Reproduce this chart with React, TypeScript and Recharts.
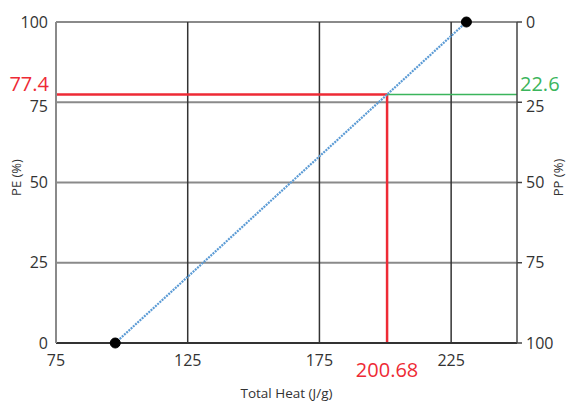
import React from 'react';
import {
  ComposedChart,
  Line,
  XAxis,
  YAxis,
  CartesianGrid,
  ReferenceLine,
  Label,
} from 'recharts';

// Calibration line: total heat (J/g) vs PE content (%); PP is the remainder
const heatValues = [97.5, 230.8];
const peValues = [0, 100];
const ppValues = [100, 0];

// Measured sample
const sampleHeat = 200.68;
const samplePE = 77.4;
const samplePP = 22.6;

const xTicks = [75, 125, 175, 225];
const yTicks = [0, 25, 50, 75, 100];
const xDomain = [75, 250];

const data = heatValues.map((h, i) => ({ heat: h, pe: peValues[i], pp: ppValues[i] }));

const FONT = '"Open Sans", "DejaVu Sans", sans-serif';
const RED = '#ee2a35';
const GREEN = '#3bb55c';
const TEXT = '#333333';

const BlackDot = (props: any) => {
  const { cx, cy } = props;
  if (cx == null || cy == null) return null;
  return <circle cx={cx} cy={cy} r={5} fill="#000" stroke="#000" />;
};

// Y tick that nudges the label next to the sample line downward so the two don't collide
const makeYTick = (nudgeValue: number, anchor: 'start' | 'end') => (props: any) => {
  const { x, y, payload } = props;
  const shift = payload.value === nudgeValue ? 4 : 0;
  return (
    <text
      x={x}
      y={y + shift}
      dy="0.355em"
      textAnchor={anchor}
      fill={TEXT}
      fontSize={16}
      fontFamily={FONT}
    >
      {payload.value}
    </text>
  );
};

const LeftTick = makeYTick(75, 'end');
const RightTick = makeYTick(25, 'start');

// Rotated axis title, centred slightly above the middle of the plot
const VerticalTitle = (text: string, side: 'left' | 'right') => (props: any) => {
  const vb = props.viewBox || {};
  const cx = side === 'left' ? vb.x + 16 : vb.x + vb.width - 8;
  const cy = vb.y + vb.height / 2 - 5;
  return (
    <text
      x={cx}
      y={cy}
      transform={`rotate(-90, ${cx}, ${cy})`}
      textAnchor="middle"
      dominantBaseline="central"
      fill={TEXT}
      fontSize={13}
      fontFamily={FONT}
    >
      {text}
    </text>
  );
};

export default function App() {
  return (
    <div style={{ position: 'absolute', left: 0, top: 0, background: '#fff' }}>
      <ComposedChart
        width={566}
        height={401}
        data={data}
        margin={{ top: 22, right: 0, bottom: 0, left: 0 }}
        style={{ fontFamily: FONT }}
      >
        <CartesianGrid
          yAxisId="pe"
          vertical={false}
          stroke="#8a8a8a"
          strokeWidth={2}
          horizontalValues={yTicks}
        />
        <CartesianGrid
          yAxisId="pe"
          horizontal={false}
          stroke="#333333"
          strokeWidth={1.5}
          verticalValues={xTicks}
        />
        <XAxis
          dataKey="heat"
          type="number"
          domain={xDomain}
          ticks={xTicks}
          allowDataOverflow
          tickLine={false}
          tickSize={0}
          tickMargin={12}
          axisLine={{ stroke: '#333333', strokeWidth: 2 }}
          tick={{ fill: TEXT, fontSize: 16, fontFamily: FONT }}
          height={58}
        >
          <Label
            value="Total Heat (J/g)"
            position="insideBottom"
            offset={3}
            style={{ fill: TEXT, fontSize: 13.5, fontFamily: FONT }}
          />
        </XAxis>
        <YAxis
          yAxisId="pe"
          type="number"
          domain={[0, 100]}
          ticks={yTicks}
          tickLine={false}
          tickSize={0}
          tickMargin={8}
          axisLine={{ stroke: '#8a8a8a', strokeWidth: 2 }}
          tick={<LeftTick />}
          width={56}
        >
          <Label content={VerticalTitle('PE (%)', 'left')} />
        </YAxis>
        <YAxis
          yAxisId="pp"
          orientation="right"
          type="number"
          domain={[0, 100]}
          reversed
          ticks={yTicks}
          tickSize={5}
          tickMargin={4}
          tickLine={{ stroke: '#444444', strokeWidth: 1.5 }}
          axisLine={{ stroke: '#444444', strokeWidth: 1.5 }}
          tick={<RightTick />}
          width={49}
        >
          <Label content={VerticalTitle('PP (%)', 'right')} />
        </YAxis>

        <ReferenceLine
          yAxisId="pe"
          segment={[
            { x: xDomain[0], y: samplePE },
            { x: sampleHeat, y: samplePE },
          ]}
          stroke={RED}
          strokeWidth={2.5}
          ifOverflow="visible"
          label={(p: any) => {
            const vb = p.viewBox || {};
            return (
              <text
                x={(vb.x ?? 56) - 7}
                y={(vb.y ?? 96) - 4}
                textAnchor="end"
                fill={RED}
                fontSize={20}
                fontFamily={FONT}
              >
                {samplePE}
              </text>
            );
          }}
        />
        <ReferenceLine
          yAxisId="pe"
          segment={[
            { x: sampleHeat, y: 0 },
            { x: sampleHeat, y: samplePE },
          ]}
          stroke={RED}
          strokeWidth={2.5}
          ifOverflow="visible"
          label={(p: any) => {
            const vb = p.viewBox || {};
            const bottom = (vb.y ?? 96) + (vb.height ?? 247);
            return (
              <text
                x={vb.x ?? 387}
                y={bottom + 34}
                textAnchor="middle"
                fill={RED}
                fontSize={20}
                fontFamily={FONT}
              >
                {sampleHeat}
              </text>
            );
          }}
        />
        <ReferenceLine
          yAxisId="pe"
          segment={[
            { x: sampleHeat, y: samplePE },
            { x: xDomain[1], y: samplePE },
          ]}
          stroke={GREEN}
          strokeWidth={1.5}
          ifOverflow="visible"
          label={(p: any) => {
            const vb = p.viewBox || {};
            const right = (vb.x ?? 387) + (vb.width ?? 130);
            return (
              <text
                x={right + 3}
                y={(vb.y ?? 96) - 4}
                textAnchor="start"
                fill={GREEN}
                fontSize={20}
                fontFamily={FONT}
              >
                {samplePP}
              </text>
            );
          }}
        />

        {/* PP counterpart of the calibration line; drawn invisibly so the right axis is bound to data */}
        <Line
          yAxisId="pp"
          dataKey="pp"
          type="linear"
          stroke="none"
          dot={false}
          activeDot={false}
          legendType="none"
          isAnimationActive={false}
        />
        <Line
          yAxisId="pe"
          dataKey="pe"
          type="linear"
          stroke="#5b9bd5"
          strokeWidth={2.2}
          strokeDasharray="2 1"
          dot={<BlackDot />}
          activeDot={false}
          isAnimationActive={false}
        />
      </ComposedChart>
    </div>
  );
}
